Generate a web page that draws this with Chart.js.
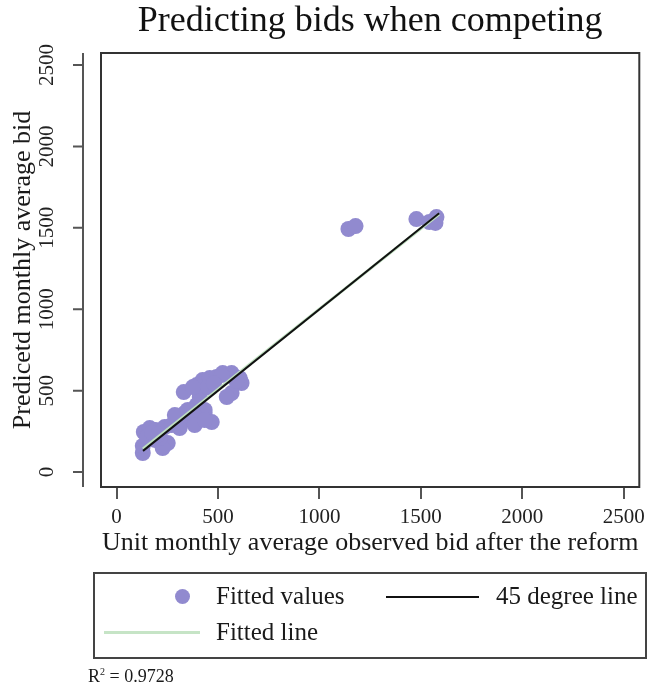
<!DOCTYPE html>
<html>
<head>
<meta charset="utf-8">
<script src="https://cdn.jsdelivr.net/npm/chart.js@4.4.1/dist/chart.umd.min.js"></script>
<style>
  html, body { margin: 0; padding: 0; background: #fff; }
  #wrap { position: relative; width: 651px; height: 690px; font-family: "Liberation Serif", serif; color: #1a1a1a; }
  #grafico { position: absolute; left: 0; top: 0; }
  #legenda { position: absolute; left: 93px; top: 572px; width: 550px; height: 83px; border: 2px solid #444; box-sizing: content-box; }
  .item { position: absolute; font-size: 25px; line-height: 28px; white-space: nowrap; }
  .ponto { position: absolute; width: 15px; height: 15px; border-radius: 50%; background: #918acf; }
  .traco { position: absolute; height: 2px; }
  #r2 { position: absolute; left: 88px; top: 666px; font-size: 18px; white-space: nowrap; }
</style>
</head>
<body>
<div id="wrap">
  <canvas id="grafico" width="651" height="690"></canvas>
  <div id="legenda">
    <div class="ponto" style="left:80px; top:15px;"></div>
    <div class="item" style="left:121px; top:8px;">Fitted values</div>
    <div class="traco" style="left:291px; top:22px; width:93px; background:#111;"></div>
    <div class="item" style="left:401px; top:8px;">45 degree line</div>
    <div class="traco" style="left:9px; top:57px; width:96px; height:3px; background:#c6e4c6;"></div>
    <div class="item" style="left:121px; top:44px;">Fitted line</div>
  </div>
  <div id="r2">R<sup style="font-size:10px;">2</sup> = 0.9728</div>
</div>
<script>
// Dados
const observedBid = [129, 129, 134, 163, 193, 213, 237, 272, 252, 227, 188, 213,
    301, 336, 360, 385, 410, 434, 331, 469, 395, 424, 459, 493, 523, 567, 607, 616,
    567, 543, 410, 395, 434, 287, 518, 376, 351, 395, 311, 385, 434,
    150, 175, 205, 450, 480, 590,
    1143, 1178, 1478, 1542, 1572, 1577];
const predictedBid = [117, 160, 246, 270, 258, 246, 276, 289, 178, 147, 197, 209,
    332, 362, 332, 381, 344, 362, 491, 307, 534, 565, 577, 584, 608, 608, 577, 547,
    485, 461, 461, 412, 381, 350, 596, 522, 381, 332, 270, 289, 319,
    215, 240, 230, 520, 545, 560,
    1493, 1511, 1554, 1536, 1530, 1566];
const lineX = [130, 1590];
const degreeLineY = [130, 1590];
const fittedLineY = [142, 1584];
const tickValues = [0, 500, 1000, 1500, 2000, 2500];

const serif = '"Liberation Serif", serif';

// Caixa, eixo vertical e título desenhados à mão
const moldura = {
    id: 'moldura',
    beforeDatasetsDraw(chart) {
        const { ctx, chartArea } = chart;
        ctx.save();
        ctx.strokeStyle = '#333';
        ctx.lineWidth = 2;
        ctx.strokeRect(chartArea.left, chartArea.top, chartArea.right - chartArea.left, chartArea.bottom - chartArea.top);
        ctx.restore();
    },
    afterDraw(chart) {
        const { ctx, chartArea } = chart;
        const y = chart.scales.y;
        const axisX = chartArea.left - 18;
        ctx.save();
        ctx.strokeStyle = '#555';
        ctx.lineWidth = 2;
        ctx.beginPath();
        ctx.moveTo(axisX, chartArea.top);
        ctx.lineTo(axisX, chartArea.bottom);
        tickValues.forEach(v => {
            const py = y.getPixelForValue(v);
            ctx.moveTo(axisX - 10, py);
            ctx.lineTo(axisX, py);
        });
        ctx.stroke();

        ctx.fillStyle = '#222';
        ctx.font = '21px ' + serif;
        ctx.textAlign = 'center';
        ctx.textBaseline = 'middle';
        tickValues.forEach(v => {
            const py = y.getPixelForValue(v);
            ctx.save();
            ctx.translate(axisX - 36, py);
            ctx.rotate(-Math.PI / 2);
            ctx.fillText(String(v), 0, 0);
            ctx.restore();
        });

        ctx.fillStyle = '#111';
        ctx.font = '36px ' + serif;
        ctx.fillText('Predicting bids when competing', (chartArea.left + chartArea.right) / 2, 22);
        ctx.restore();
    }
};

window.addEventListener('DOMContentLoaded', function() {
    const ctx = document.getElementById('grafico').getContext('2d');
    new Chart(ctx, {
        type: 'scatter',
        data: {
            datasets: [
                {
                    label: '45 degree line',
                    data: lineX.map((x, i) => ({ x: x, y: degreeLineY[i] })),
                    showLine: true,
                    borderColor: '#111',
                    borderWidth: 2,
                    pointRadius: 0
                },
                {
                    label: 'Fitted line',
                    data: lineX.map((x, i) => ({ x: x, y: fittedLineY[i] })),
                    showLine: true,
                    borderColor: '#bfe0bf',
                    borderWidth: 3,
                    pointRadius: 0
                },
                {
                    label: 'Fitted values',
                    data: observedBid.map((x, i) => ({ x: x, y: predictedBid[i] })),
                    backgroundColor: '#918acf',
                    borderWidth: 0,
                    pointRadius: 8
                }
            ]
        },
        options: {
            responsive: false,
            animation: false,
            layout: { padding: { top: 53, right: 11, bottom: 133, left: 0 } },
            plugins: {
                legend: { display: false },
                tooltip: { enabled: false }
            },
            scales: {
                x: {
                    type: 'linear',
                    min: -77,
                    max: 2577,
                    afterBuildTicks: s => { s.ticks = tickValues.map(v => ({ value: v })); },
                    afterFit: s => { s.height = 70; },
                    border: { display: false },
                    grid: { drawOnChartArea: false, drawTicks: true, tickLength: 12, color: '#555', lineWidth: 2 },
                    ticks: {
                        font: { family: serif, size: 21 },
                        color: '#222',
                        padding: 6,
                        maxRotation: 0,
                        callback: v => String(v)
                    },
                    title: {
                        display: true,
                        text: 'Unit monthly average observed bid after the reform',
                        font: { family: serif, size: 26 },
                        color: '#1a1a1a',
                        padding: { top: -14, bottom: -2 }
                    }
                },
                y: {
                    type: 'linear',
                    min: -92,
                    max: 2574,
                    afterBuildTicks: s => { s.ticks = tickValues.map(v => ({ value: v })); },
                    afterFit: s => { s.width = 101; },
                    border: { display: false },
                    grid: { display: false },
                    ticks: { display: false },
                    title: {
                        display: true,
                        text: 'Predicetd monthly average bid',
                        font: { family: serif, size: 26 },
                        color: '#1a1a1a',
                        padding: { top: 8, bottom: 0 }
                    }
                }
            }
        },
        plugins: [moldura]
    });
});
</script>
</body>
</html>
